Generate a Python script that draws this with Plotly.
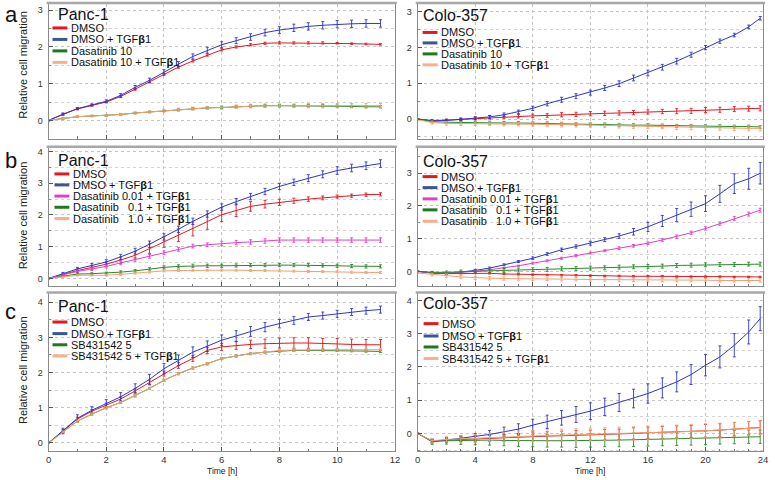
import plotly.graph_objects as go

# ---------------- data ----------------
t_left = [0, 0.5, 1, 1.5, 2, 2.5, 3, 3.5, 4, 4.5, 5, 5.5, 6, 6.5, 7, 7.5, 8, 8.5, 9, 9.5, 10, 10.5, 11, 11.5]
t_right = [0, 1, 2, 3, 4, 5, 6, 7, 8, 9, 10, 11, 12, 13, 14, 15, 16, 17, 18, 19, 20, 21, 22, 23, 23.8]

# Panel a, Panc-1
a_l_dmso = [0, 0.17, 0.31, 0.41, 0.5, 0.65, 0.85, 1.05, 1.25, 1.45, 1.62, 1.78, 1.92, 2.0, 2.06, 2.1, 2.11, 2.11, 2.11, 2.11, 2.1, 2.09, 2.08, 2.07]
a_l_dmso_tgf = [0, 0.17, 0.32, 0.42, 0.52, 0.68, 0.9, 1.09, 1.32, 1.53, 1.74, 1.91, 2.06, 2.17, 2.27, 2.39, 2.46, 2.52, 2.56, 2.59, 2.62, 2.63, 2.64, 2.64]
a_l_das = [0, 0.05, 0.1, 0.12, 0.13, 0.16, 0.2, 0.23, 0.26, 0.29, 0.32, 0.34, 0.35, 0.37, 0.39, 0.4, 0.4, 0.4, 0.4, 0.4, 0.39, 0.38, 0.37, 0.37]
a_l_das_tgf = [0, 0.05, 0.1, 0.12, 0.13, 0.16, 0.2, 0.23, 0.26, 0.29, 0.32, 0.34, 0.35, 0.37, 0.39, 0.4, 0.4, 0.4, 0.4, 0.4, 0.4, 0.4, 0.4, 0.4]
a_l_dmso_err = [0.01, 0.02, 0.02, 0.02, 0.02, 0.03, 0.03, 0.03, 0.03, 0.03, 0.03, 0.03, 0.03, 0.03, 0.03, 0.03, 0.03, 0.03, 0.03, 0.03, 0.02, 0.02, 0.02, 0.02]
a_l_dmso_tgf_err = [0.02, 0.03, 0.03, 0.03, 0.04, 0.05, 0.05, 0.06, 0.06, 0.07, 0.07, 0.08, 0.08, 0.08, 0.09, 0.09, 0.09, 0.1, 0.1, 0.1, 0.1, 0.1, 0.1, 0.1]
a_l_das_err = [0.01, 0.02, 0.02, 0.02, 0.02, 0.02, 0.02, 0.02, 0.02, 0.03, 0.03, 0.03, 0.03, 0.03, 0.03, 0.03, 0.03, 0.03, 0.03, 0.03, 0.03, 0.03, 0.03, 0.03]
a_l_das_tgf_err = [0.01, 0.02, 0.02, 0.02, 0.03, 0.03, 0.03, 0.03, 0.04, 0.04, 0.04, 0.04, 0.05, 0.05, 0.05, 0.05, 0.05, 0.05, 0.06, 0.06, 0.06, 0.06, 0.06, 0.06]

# Panel a, Colo-357
a_r_dmso = [0, -0.04, -0.03, -0.01, 0.02, 0.05, 0.07, 0.08, 0.09, 0.1, 0.12, 0.13, 0.15, 0.16, 0.17, 0.18, 0.2, 0.21, 0.22, 0.23, 0.25, 0.26, 0.28, 0.29, 0.3]
a_r_dmso_tgf = [0, -0.05, -0.04, -0.01, 0.02, 0.06, 0.12, 0.2, 0.3, 0.43, 0.54, 0.64, 0.74, 0.87, 0.99, 1.15, 1.29, 1.45, 1.62, 1.8, 2.0, 2.18, 2.35, 2.58, 2.82]
a_r_das = [0, -0.07, -0.09, -0.1, -0.1, -0.1, -0.11, -0.11, -0.12, -0.12, -0.13, -0.14, -0.15, -0.15, -0.16, -0.17, -0.17, -0.18, -0.19, -0.19, -0.2, -0.2, -0.21, -0.21, -0.22]
a_r_das_tgf = [-0.02, -0.1, -0.12, -0.13, -0.13, -0.13, -0.14, -0.14, -0.14, -0.15, -0.16, -0.16, -0.17, -0.18, -0.19, -0.2, -0.2, -0.21, -0.22, -0.23, -0.24, -0.24, -0.25, -0.26, -0.26]
a_r_dmso_err = [0.01, 0.03, 0.03, 0.04, 0.04, 0.05, 0.05, 0.05, 0.05, 0.05, 0.06, 0.06, 0.06, 0.06, 0.06, 0.06, 0.06, 0.06, 0.07, 0.07, 0.07, 0.07, 0.07, 0.07, 0.07]
a_r_dmso_tgf_err = [0.01, 0.02, 0.03, 0.03, 0.04, 0.04, 0.05, 0.05, 0.06, 0.06, 0.07, 0.07, 0.07, 0.07, 0.08, 0.08, 0.08, 0.08, 0.08, 0.07, 0.06, 0.06, 0.05, 0.05, 0.05]
a_r_das_err = [0.01, 0.03, 0.03, 0.03, 0.03, 0.04, 0.04, 0.04, 0.04, 0.04, 0.04, 0.04, 0.04, 0.04, 0.04, 0.04, 0.04, 0.04, 0.04, 0.04, 0.04, 0.04, 0.04, 0.04, 0.04]
a_r_das_tgf_err = [0.01, 0.04, 0.05, 0.05, 0.05, 0.05, 0.05, 0.05, 0.06, 0.06, 0.06, 0.06, 0.06, 0.06, 0.06, 0.06, 0.06, 0.06, 0.07, 0.07, 0.07, 0.07, 0.07, 0.07, 0.07]

# Panel b, Panc-1
b_l_dmso = [0, 0.13, 0.25, 0.35, 0.45, 0.58, 0.73, 0.94, 1.15, 1.36, 1.56, 1.79, 2.01, 2.15, 2.27, 2.34, 2.4, 2.45, 2.5, 2.54, 2.58, 2.61, 2.64, 2.65]
b_l_dmso_tgf = [0, 0.15, 0.3, 0.41, 0.52, 0.68, 0.86, 1.08, 1.31, 1.55, 1.8, 2.03, 2.25, 2.42, 2.58, 2.74, 2.9, 3.03, 3.16, 3.28, 3.4, 3.48, 3.55, 3.62]
b_l_das001 = [0, 0.11, 0.22, 0.3, 0.38, 0.49, 0.6, 0.7, 0.81, 0.92, 1.02, 1.06, 1.1, 1.13, 1.15, 1.18, 1.21, 1.21, 1.21, 1.21, 1.21, 1.21, 1.21, 1.21]
b_l_das01 = [0, 0.07, 0.14, 0.15, 0.17, 0.2, 0.24, 0.3, 0.35, 0.38, 0.4, 0.4, 0.4, 0.41, 0.42, 0.42, 0.42, 0.42, 0.42, 0.41, 0.4, 0.39, 0.38, 0.38]
b_l_das10 = [0, 0.05, 0.1, 0.1, 0.1, 0.13, 0.17, 0.2, 0.24, 0.25, 0.26, 0.26, 0.26, 0.26, 0.25, 0.25, 0.24, 0.23, 0.22, 0.22, 0.21, 0.2, 0.19, 0.19]
b_l_dmso_err = [0.01, 0.03, 0.05, 0.06, 0.07, 0.1, 0.12, 0.15, 0.17, 0.2, 0.22, 0.24, 0.22, 0.2, 0.15, 0.12, 0.1, 0.08, 0.07, 0.06, 0.05, 0.05, 0.05, 0.05]
b_l_dmso_tgf_err = [0.01, 0.04, 0.05, 0.06, 0.07, 0.08, 0.09, 0.1, 0.1, 0.1, 0.1, 0.1, 0.1, 0.1, 0.1, 0.1, 0.1, 0.1, 0.11, 0.11, 0.12, 0.12, 0.12, 0.12]
b_l_das001_err = [0.01, 0.03, 0.04, 0.05, 0.05, 0.06, 0.06, 0.06, 0.06, 0.06, 0.06, 0.06, 0.07, 0.07, 0.07, 0.07, 0.07, 0.07, 0.07, 0.07, 0.07, 0.07, 0.07, 0.07]
b_l_das01_err = [0.01, 0.02, 0.03, 0.03, 0.03, 0.04, 0.04, 0.04, 0.05, 0.05, 0.05, 0.05, 0.05, 0.05, 0.05, 0.05, 0.05, 0.05, 0.05, 0.05, 0.05, 0.05, 0.05, 0.05]
b_l_das10_err = [0.01, 0.02, 0.02, 0.02, 0.02, 0.03, 0.03, 0.03, 0.03, 0.03, 0.03, 0.03, 0.03, 0.03, 0.03, 0.03, 0.03, 0.03, 0.03, 0.03, 0.03, 0.03, 0.03, 0.03]

# Panel b, Colo-357
b_r_dmso = [0, -0.05, -0.07, -0.06, -0.05, -0.06, -0.08, -0.09, -0.1, -0.11, -0.12, -0.12, -0.13, -0.14, -0.14, -0.15, -0.15, -0.15, -0.16, -0.16, -0.16, -0.16, -0.17, -0.17, -0.17]
b_r_dmso_tgf = [0, -0.05, -0.07, -0.03, 0.03, 0.1, 0.2, 0.3, 0.4, 0.53, 0.66, 0.76, 0.86, 0.97, 1.08, 1.21, 1.36, 1.54, 1.72, 1.9, 2.07, 2.37, 2.68, 2.83, 3.0]
b_r_das001 = [0, -0.04, -0.05, -0.03, 0.0, 0.05, 0.1, 0.17, 0.25, 0.32, 0.4, 0.48, 0.56, 0.63, 0.71, 0.78, 0.86, 0.96, 1.06, 1.18, 1.31, 1.46, 1.62, 1.75, 1.87]
b_r_das01 = [0, -0.03, -0.03, -0.01, 0.0, 0.01, 0.03, 0.04, 0.05, 0.06, 0.08, 0.09, 0.1, 0.11, 0.13, 0.14, 0.15, 0.16, 0.18, 0.19, 0.2, 0.21, 0.21, 0.22, 0.22]
b_r_das10 = [-0.05, -0.1, -0.13, -0.17, -0.2, -0.21, -0.22, -0.22, -0.23, -0.23, -0.24, -0.24, -0.25, -0.25, -0.26, -0.26, -0.27, -0.27, -0.27, -0.27, -0.27, -0.28, -0.28, -0.28, -0.28]
b_r_dmso_err = [0.01, 0.02, 0.02, 0.02, 0.02, 0.02, 0.02, 0.02, 0.02, 0.02, 0.02, 0.02, 0.02, 0.02, 0.02, 0.02, 0.02, 0.02, 0.02, 0.02, 0.02, 0.02, 0.02, 0.02, 0.02]
b_r_dmso_tgf_err = [0.01, 0.02, 0.02, 0.02, 0.03, 0.03, 0.03, 0.03, 0.04, 0.04, 0.05, 0.05, 0.06, 0.06, 0.07, 0.1, 0.14, 0.17, 0.2, 0.22, 0.24, 0.26, 0.3, 0.32, 0.33]
b_r_das001_err = [0.01, 0.02, 0.02, 0.02, 0.02, 0.02, 0.02, 0.02, 0.03, 0.03, 0.03, 0.03, 0.03, 0.03, 0.04, 0.04, 0.04, 0.04, 0.05, 0.05, 0.05, 0.05, 0.06, 0.06, 0.06]
b_r_das01_err = [0.01, 0.03, 0.04, 0.05, 0.05, 0.06, 0.06, 0.06, 0.06, 0.06, 0.06, 0.06, 0.06, 0.06, 0.06, 0.06, 0.06, 0.06, 0.06, 0.06, 0.06, 0.06, 0.06, 0.06, 0.06]
b_r_das10_err = [0.01, 0.04, 0.05, 0.05, 0.05, 0.05, 0.05, 0.05, 0.05, 0.05, 0.05, 0.05, 0.05, 0.05, 0.05, 0.05, 0.05, 0.05, 0.05, 0.05, 0.05, 0.05, 0.05, 0.05, 0.05]

# Panel c, Panc-1
c_l_dmso = [0, 0.34, 0.68, 0.9, 1.08, 1.25, 1.48, 1.72, 1.97, 2.2, 2.4, 2.63, 2.73, 2.77, 2.8, 2.82, 2.84, 2.84, 2.84, 2.82, 2.82, 2.8, 2.79, 2.79]
c_l_dmso_tgf = [0, 0.34, 0.7, 0.93, 1.12, 1.31, 1.55, 1.81, 2.11, 2.35, 2.58, 2.75, 2.92, 3.04, 3.17, 3.29, 3.39, 3.48, 3.58, 3.62, 3.67, 3.72, 3.76, 3.79]
c_l_sb = [0, 0.32, 0.62, 0.82, 1.0, 1.15, 1.34, 1.55, 1.78, 1.97, 2.13, 2.25, 2.4, 2.47, 2.54, 2.58, 2.61, 2.63, 2.63, 2.63, 2.63, 2.62, 2.61, 2.6]
c_l_sb_tgf = [0, 0.32, 0.62, 0.82, 1.0, 1.15, 1.34, 1.55, 1.78, 1.97, 2.13, 2.25, 2.4, 2.47, 2.54, 2.58, 2.63, 2.64, 2.65, 2.65, 2.65, 2.65, 2.65, 2.65]
c_l_dmso_err = [0.01, 0.04, 0.05, 0.05, 0.05, 0.06, 0.06, 0.07, 0.07, 0.08, 0.08, 0.09, 0.1, 0.11, 0.12, 0.13, 0.14, 0.15, 0.15, 0.15, 0.15, 0.15, 0.15, 0.15]
c_l_dmso_tgf_err = [0.01, 0.08, 0.1, 0.1, 0.11, 0.12, 0.13, 0.14, 0.15, 0.15, 0.15, 0.15, 0.15, 0.15, 0.14, 0.13, 0.12, 0.11, 0.1, 0.1, 0.1, 0.1, 0.1, 0.1]
c_l_sb_err = [0.01, 0.02, 0.03, 0.03, 0.03, 0.03, 0.03, 0.03, 0.03, 0.03, 0.03, 0.03, 0.03, 0.03, 0.03, 0.03, 0.03, 0.03, 0.03, 0.03, 0.03, 0.03, 0.03, 0.03]
c_l_sb_tgf_err = [0.01, 0.02, 0.03, 0.03, 0.03, 0.03, 0.03, 0.03, 0.03, 0.03, 0.03, 0.03, 0.03, 0.03, 0.03, 0.03, 0.04, 0.04, 0.04, 0.04, 0.04, 0.04, 0.04, 0.04]

# Panel c, Colo-357
c_r_dmso = [0, -0.23, -0.2, -0.18, -0.17, -0.15, -0.13, -0.11, -0.1, -0.08, -0.07, -0.06, -0.05, -0.04, -0.03, 0.0, 0.02, 0.03, 0.05, 0.06, 0.08, 0.1, 0.13, 0.16, 0.18]
c_r_dmso_tgf = [0, -0.23, -0.2, -0.15, -0.1, -0.03, 0.05, 0.13, 0.25, 0.35, 0.47, 0.57, 0.67, 0.8, 0.93, 1.05, 1.2, 1.37, 1.55, 1.77, 2.05, 2.3, 2.65, 3.05, 3.45]
c_r_sb = [0, -0.25, -0.22, -0.21, -0.2, -0.2, -0.21, -0.22, -0.22, -0.22, -0.22, -0.22, -0.21, -0.2, -0.2, -0.19, -0.18, -0.17, -0.16, -0.15, -0.13, -0.12, -0.11, -0.1, -0.1]
c_r_sb_tgf = [0, -0.22, -0.18, -0.16, -0.15, -0.12, -0.1, -0.08, -0.07, -0.06, -0.05, -0.04, -0.03, -0.02, -0.01, 0.0, 0.02, 0.03, 0.05, 0.06, 0.08, 0.1, 0.12, 0.15, 0.17]
c_r_dmso_err = [0.01, 0.05, 0.06, 0.07, 0.08, 0.09, 0.1, 0.11, 0.12, 0.13, 0.14, 0.15, 0.15, 0.16, 0.16, 0.17, 0.17, 0.18, 0.18, 0.18, 0.19, 0.19, 0.2, 0.2, 0.2]
c_r_dmso_tgf_err = [0.01, 0.05, 0.06, 0.08, 0.1, 0.12, 0.14, 0.16, 0.18, 0.2, 0.22, 0.24, 0.25, 0.26, 0.27, 0.28, 0.29, 0.3, 0.3, 0.3, 0.32, 0.33, 0.35, 0.36, 0.36]
c_r_sb_err = [0.01, 0.08, 0.1, 0.12, 0.14, 0.15, 0.16, 0.17, 0.18, 0.19, 0.19, 0.2, 0.2, 0.2, 0.2, 0.2, 0.2, 0.2, 0.2, 0.2, 0.2, 0.2, 0.2, 0.2, 0.2]
c_r_sb_tgf_err = [0.01, 0.06, 0.08, 0.1, 0.12, 0.13, 0.14, 0.15, 0.16, 0.17, 0.18, 0.18, 0.19, 0.19, 0.2, 0.2, 0.2, 0.2, 0.2, 0.21, 0.21, 0.21, 0.21, 0.21, 0.21]

# ---------------- styling ----------------
W, H = 775, 480
FONT = "Liberation Sans, Arial, Helvetica, sans-serif"
C_RED, C_BLUE, C_GREEN, C_ORANGE, C_MAG = "#e2191f", "#2f36c8", "#2a8a2a", "#f3a070", "#e040c8"
SW_RED, SW_BLUE, SW_GREEN, SW_ORANGE, SW_MAG = "#e8161d", "#3a5890", "#1c7a1c", "#f7b089", "#e040c8"

TGF = "TGF<b>β</b>1"


def px(xp):
    return xp / W


def py(yp):
    return 1 - yp / H


panels = [
    dict(t=t_left, xr=[0, 12], yr=[-0.5, 3.17], xdom=(46, 396), ydom=(3, 138), title="Panc-1",
         series=[("DMSO", a_l_dmso, a_l_dmso_err, C_RED, SW_RED),
                 ("DMSO + " + TGF, a_l_dmso_tgf, a_l_dmso_tgf_err, C_BLUE, SW_BLUE),
                 ("Dasatinib 10", a_l_das, a_l_das_err, C_GREEN, SW_GREEN),
                 ("Dasatinib 10 + " + TGF, a_l_das_tgf, a_l_das_tgf_err, C_ORANGE, SW_ORANGE)],
         leg=dict(tx=54, ty=13.5, sx=50, ys=[27, 38.5, 50, 61.5])),
    dict(t=t_right, xr=[0, 24], yr=[-0.55, 3.22], xdom=(419, 768), ydom=(3, 138), title="Colo-357",
         series=[("DMSO", a_r_dmso, a_r_dmso_err, C_RED, SW_RED),
                 ("DMSO + " + TGF, a_r_dmso_tgf, a_r_dmso_tgf_err, C_BLUE, SW_BLUE),
                 ("Dasatinib 10", a_r_das, a_r_das_err, C_GREEN, SW_GREEN),
                 ("Dasatinib 10 + " + TGF, a_r_das_tgf, a_r_das_tgf_err, C_ORANGE, SW_ORANGE)],
         leg=dict(tx=422, ty=15, sx=424, ys=[31.5, 42, 53, 64])),
    dict(t=t_left, xr=[0, 12], yr=[-0.25, 4.12], xdom=(46, 396), ydom=(147, 286), title="Panc-1",
         series=[("DMSO", b_l_dmso, b_l_dmso_err, C_RED, SW_RED),
                 ("DMSO + " + TGF, b_l_dmso_tgf, b_l_dmso_tgf_err, C_BLUE, SW_BLUE),
                 ("Dasatinib 0.01 + " + TGF, b_l_das001, b_l_das001_err, C_MAG, SW_MAG),
                 ("Dasatinib   0.1 + " + TGF, b_l_das01, b_l_das01_err, C_GREEN, SW_GREEN),
                 ("Dasatinib   1.0 + " + TGF, b_l_das10, b_l_das10_err, C_ORANGE, SW_ORANGE)],
         leg=dict(tx=54, ty=160, sx=52, ys=[173.3, 184.3, 195.5, 206.7, 218])),
    dict(t=t_right, xr=[0, 24], yr=[-0.46, 3.78], xdom=(419, 768), ydom=(147, 286), title="Colo-357",
         series=[("DMSO", b_r_dmso, b_r_dmso_err, C_RED, SW_RED),
                 ("DMSO + " + TGF, b_r_dmso_tgf, b_r_dmso_tgf_err, C_BLUE, SW_BLUE),
                 ("Dasatinib 0.01 + " + TGF, b_r_das001, b_r_das001_err, C_MAG, SW_MAG),
                 ("Dasatinib   0.1 + " + TGF, b_r_das01, b_r_das01_err, C_GREEN, SW_GREEN),
                 ("Dasatinib   1.0 + " + TGF, b_r_das10, b_r_das10_err, C_ORANGE, SW_ORANGE)],
         leg=dict(tx=422, ty=161, sx=424, ys=[176, 187, 198.3, 209.3, 220.7])),
    dict(t=t_left, xr=[0, 12], yr=[-0.23, 4.25], xdom=(46, 396), ydom=(293, 451), title="Panc-1",
         series=[("DMSO", c_l_dmso, c_l_dmso_err, C_RED, SW_RED),
                 ("DMSO + " + TGF, c_l_dmso_tgf, c_l_dmso_tgf_err, C_BLUE, SW_BLUE),
                 ("SB431542 5", c_l_sb, c_l_sb_err, C_GREEN, SW_GREEN),
                 ("SB431542 5 + " + TGF, c_l_sb_tgf, c_l_sb_tgf_err, C_ORANGE, SW_ORANGE)],
         leg=dict(tx=54, ty=306, sx=50, ys=[321.7, 333.3, 344.5, 355.7])),
    dict(t=t_right, xr=[0, 24], yr=[-0.53, 4.21], xdom=(419, 768), ydom=(293, 451), title="Colo-357",
         series=[("DMSO", c_r_dmso, c_r_dmso_err, C_RED, SW_RED),
                 ("DMSO + " + TGF, c_r_dmso_tgf, c_r_dmso_tgf_err, C_BLUE, SW_BLUE),
                 ("SB431542 5", c_r_sb, c_r_sb_err, C_GREEN, SW_GREEN),
                 ("SB431542 5 + " + TGF, c_r_sb_tgf, c_r_sb_tgf_err, C_ORANGE, SW_ORANGE)],
         leg=dict(tx=422, ty=303, sx=425, ys=[323.3, 335.7, 346.7, 358.3])),
]

fig = go.Figure()
layout = dict(width=W, height=H, margin=dict(l=0, r=0, t=0, b=0),
              paper_bgcolor="white", plot_bgcolor="white", showlegend=False,
              font=dict(family=FONT, color="#222"))
annotations = []
shapes = []

for i, p in enumerate(panels):
    n = i + 1
    xa = "x" if n == 1 else f"x{n}"
    ya = "y" if n == 1 else f"y{n}"
    bottom = i >= 4
    left = (i % 2 == 0)
    layout["xaxis" if n == 1 else f"xaxis{n}"] = dict(
        domain=[px(p["xdom"][0]), px(p["xdom"][1])], anchor=ya, range=p["xr"],
        showline=True, mirror=True, linecolor="#8a8a8a", linewidth=1,
        ticks="inside", ticklen=4, tickcolor="#555", tick0=0, dtick=2 if left else 4,
        showgrid=True, gridcolor="#c4c4c4", griddash="dot", gridwidth=1,
        minor=dict(dtick=1, ticks="inside", ticklen=2.5, tickcolor="#777", showgrid=False),
        zeroline=False, showticklabels=bottom, tickfont=dict(size=9.5, color="#333"),
        fixedrange=True)
    layout["yaxis" if n == 1 else f"yaxis{n}"] = dict(
        domain=[py(p["ydom"][1]), py(p["ydom"][0])], anchor=xa, range=p["yr"],
        showline=True, mirror=True, linecolor="#8a8a8a", linewidth=1,
        ticks="inside", ticklen=4, tickcolor="#555", tick0=0, dtick=1,
        showgrid=True, gridcolor="#c4c4c4", griddash="dot", gridwidth=1,
        minor=dict(dtick=0.5, ticks="inside", ticklen=2, tickcolor="#888", showgrid=True,
                   gridcolor="#d4d4d4", griddash="dot"),
        zeroline=False, tickfont=dict(size=9, color="#333"), ticklabelstandoff=3,
        fixedrange=True)

    for name, vals, err, col, sw in p["series"]:
        fig.add_trace(go.Scatter(
            x=p["t"], y=vals, mode="lines", xaxis=xa, yaxis=ya,
            line=dict(color=col, width=1),
            error_y=dict(type="data", array=err, visible=True, color=col, thickness=0.9, width=1.5),
            name=name, showlegend=False, hoverinfo="skip"))

    # top double frame line
    shapes.append(dict(type="line", xref="paper", yref="paper",
                       x0=px(p["xdom"][0] - 2), x1=px(p["xdom"][1] + 2),
                       y0=py(p["ydom"][0] - 1), y1=py(p["ydom"][0] - 1),
                       line=dict(color="#a8a8a8", width=2.5)))

    # legend block
    lg = p["leg"]
    annotations.append(dict(text=p["title"], x=px(lg["tx"]), y=py(lg["ty"]), xref="paper", yref="paper",
                            xanchor="left", yanchor="middle", showarrow=False,
                            font=dict(size=16, color="#111", family=FONT)))
    for (name, vals, err, col, sw), yy in zip(p["series"], lg["ys"]):
        shapes.append(dict(type="line", xref="paper", yref="paper",
                           x0=px(lg["sx"]), x1=px(lg["sx"] + 15), y0=py(yy), y1=py(yy),
                           line=dict(color=sw, width=3)))
        annotations.append(dict(text=name, x=px(lg["sx"] + 17), y=py(yy), xref="paper", yref="paper",
                                xanchor="left", yanchor="middle", showarrow=False,
                                font=dict(size=11, color="#111", family=FONT)))

# panel letters and axis titles
for letter, yy in [("a", 14), ("b", 160), ("c", 311)]:
    annotations.append(dict(text=letter, x=px(0), y=py(yy), xref="paper", yref="paper",
                            xanchor="left", yanchor="middle", showarrow=False,
                            font=dict(size=22, color="#111", family=FONT)))
for yy in [64, 215, 370]:
    annotations.append(dict(text="Relative cell migration", x=px(20), y=py(yy), xref="paper", yref="paper",
                            xanchor="center", yanchor="middle", textangle=-90, showarrow=False,
                            font=dict(size=11, color="#222", family=FONT)))
for xx in [221, 593]:
    annotations.append(dict(text="Time [h]", x=px(xx), y=py(471), xref="paper", yref="paper",
                            xanchor="center", yanchor="middle", showarrow=False,
                            font=dict(size=8.5, color="#222", family=FONT)))

layout["annotations"] = annotations
layout["shapes"] = shapes
fig.update_layout(**layout)
fig.write_html("out.html", config={"displayModeBar": False, "staticPlot": True},
               post_script="document.body.style.margin='0';document.body.style.overflow='hidden';")
